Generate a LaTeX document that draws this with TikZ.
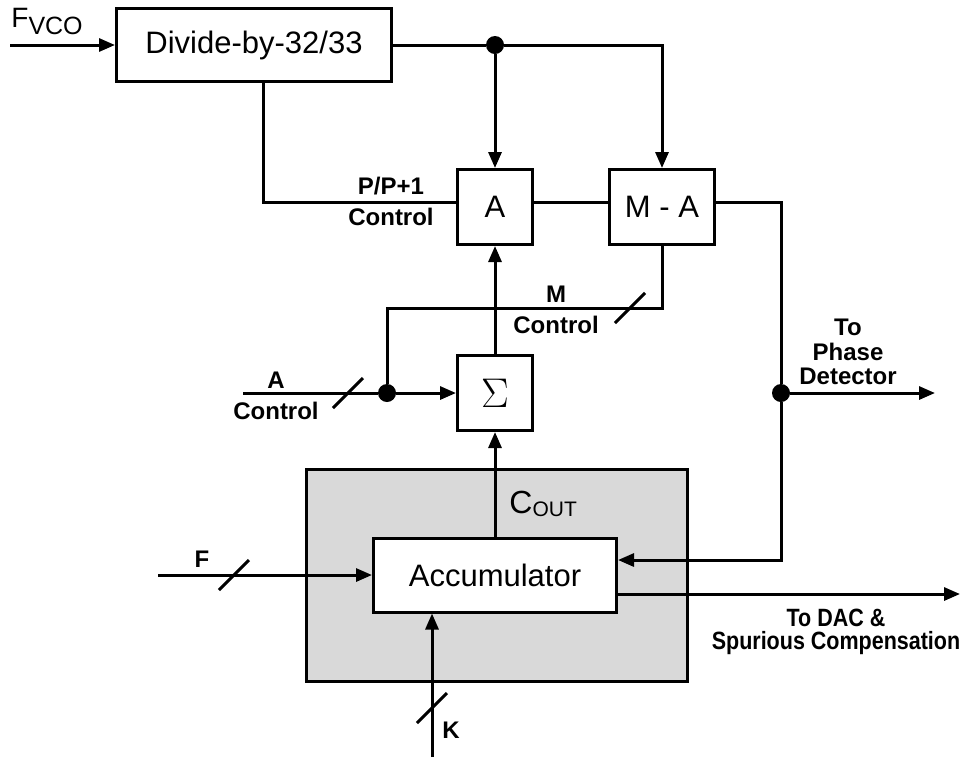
\documentclass[tikz,border=0pt]{standalone}
\usepackage{fontspec}
\setmainfont{Liberation Sans}
\newfontfamily\narrowfont{Liberation Sans}[FakeStretch=0.86]
\usetikzlibrary{
    arrows.meta,
    calc
}
\definecolor{shade}{HTML}{D9D9D9}

\begin{document}
\begin{tikzpicture}[
    x=0.5pt, y=-0.5pt,
    wire/.style={line width=1.5pt},
    arr/.style={wire, -{Triangle[length=8pt,width=6.5pt]}},
    block/.style={
        draw,
        line width=1.5pt,
        fill=white,
        inner sep=0pt,
        font=\fontsize{15.5}{18}\selectfont
    },
    lbl/.style={
        align=center,
        inner sep=0pt,
        font=\fontsize{12}{15.5}\selectfont\bfseries
    },
    junction/.style={circle, fill, inner sep=0pt, minimum size=9pt}
]
\useasboundingbox (0,0) rectangle (961,757);

% shaded carry block
\draw[wire, fill=shade] (306,469) rectangle (687,681);

\node[block, minimum width=137.5pt, minimum height=36.5pt] (div) at (254,45)
{Divide-by-32/33};

\node[block, minimum width=37.5pt, minimum height=37.5pt] (a) at (495,207) {A};

\node[block, minimum width=52.5pt, minimum height=37.5pt] (ma) at (662,207) {M - A};

\node[block, minimum width=37.5pt, minimum height=37.5pt] (sum) at (495,393)
{\fontsize{20}{24}\selectfont$\Sigma$};

\node[block, minimum width=121.5pt, minimum height=37pt] (acc) at (495,575)
{Accumulator};

\node[junction] (jtop) at (495,45) {};
\node[junction] (jleft) at (387,393) {};
\node[junction] (jright) at (781,393) {};

\coordinate (fin) at (10,45);
\coordinate (ain) at (243,393);
\coordinate (mrow) at (662,308);
\coordinate (pd) at (935,393);
\coordinate (dac) at (960,594);
\coordinate (fword) at (158,575);
\coordinate (kin) at (432,757);

% labels
\node[anchor=base west, inner sep=0pt, font=\fontsize{14}{14}\selectfont] (fvco) at (11,27)
{F\raisebox{-3.5pt}{\fontsize{12.5}{12.5}\selectfont VCO}};
\node[anchor=base west, inner sep=0pt, font=\fontsize{16}{16}\selectfont] (cout) at (509,513)
{C\raisebox{-1.5pt}{\fontsize{10.5}{10.5}\selectfont OUT}};
\node[lbl] (pctl) at (391,201) {P/P+1\\Control};
\node[lbl] (mctl) at (556,310) {M\\Control};
\node[lbl] (actl) at (276,396) {A\\Control};
\node[lbl, font=\fontsize{12}{12.2}\selectfont\bfseries] (pdlbl) at (848,352)
{To\\Phase\\Detector};
\node[lbl, font=\fontsize{12.5}{11.5}\selectfont\narrowfont\bfseries] (daclbl) at (836,632)
{To DAC \&\\Spurious Compensation};
\node[lbl] (flbl) at (202,559) {F};
\node[lbl] (klbl) at (451,730) {K};

% connections
\draw[arr] (fin) -- (div);
\draw[wire] (div) -- (jtop);
\draw[arr] (jtop) -- (a);
\draw[arr] (jtop) -| (ma);
\draw[wire] ($(div.south)+(9,0)$) |- ($(a.west)+(0,-5)$);
\draw[wire] ($(a.east)+(0,-5)$) -- ($(ma.west)+(0,-5)$);
\draw[wire] ($(ma.east)+(0,-5)$) -| (jright);
\draw[arr] (jright) -- (pd);
\draw[arr] (jright) |- ($(acc.east)+(0,-15)$);
\draw[arr] ($(acc.east)+(0,19)$) -- (dac);
\draw[arr] (fword) -- (acc);
\draw[arr] (kin) -- (kin |- acc.south);
\draw[arr] (acc) -- (sum);
\draw[arr] (sum) -- (a);
\draw[wire] (ain) -- (jleft);
\draw[arr] (jleft) -- (sum);
\draw[wire] (jleft) |- (mrow) -- (ma);

% bus width marks
\foreach \p in {(348,393),(630,308),(234,575),(432,708)}
    \draw[wire] \p ++(-15,15) -- ++(30,-30);

\end{tikzpicture}
\end{document}
